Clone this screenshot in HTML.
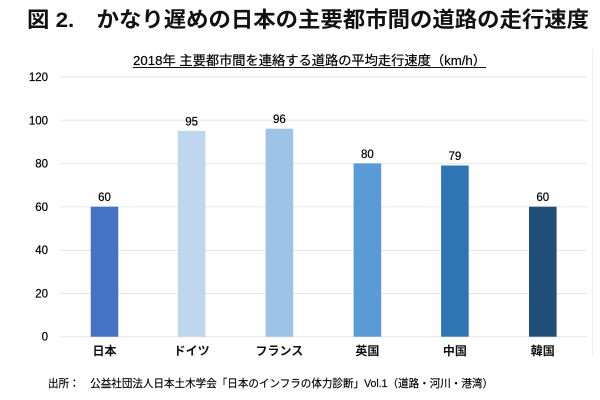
<!DOCTYPE html>
<html><head><meta charset="utf-8"><style>
html,body{margin:0;padding:0;background:#fff;}
svg{display:block;}
</style></head><body>
<svg width="600" height="400" viewBox="0 0 600 400" xmlns="http://www.w3.org/2000/svg">
<rect width="600" height="400" fill="#fff"/>
<line x1="592.5" y1="49" x2="592.5" y2="357" stroke="#eeeeee" stroke-width="1"/>
<text x="27" y="27" font-family="'Liberation Sans','Noto Sans CJK JP',sans-serif" font-size="21.5" font-weight="bold" fill="#111" textLength="562" lengthAdjust="spacingAndGlyphs">図 2.　かなり遅めの日本の主要都市間の道路の走行速度</text>
<text x="133" y="65" font-family="'Liberation Sans','Noto Sans CJK JP',sans-serif" font-size="13" fill="#000" stroke="#000" stroke-width="0.2" textLength="353" lengthAdjust="spacingAndGlyphs">2018年 主要都市間を連絡する道路の平均走行速度（km/h）</text>
<line x1="133" y1="67.5" x2="486" y2="67.5" stroke="#111" stroke-width="1"/>
<g stroke="#e6e6e6" stroke-width="1">
<line x1="60" y1="77" x2="587" y2="77"/>
<line x1="60" y1="120.3" x2="587" y2="120.3"/>
<line x1="60" y1="163.6" x2="587" y2="163.6"/>
<line x1="60" y1="206.9" x2="587" y2="206.9"/>
<line x1="60" y1="250.2" x2="587" y2="250.2"/>
<line x1="60" y1="293.5" x2="587" y2="293.5"/>
<line x1="60" y1="336.7" x2="587" y2="336.7"/>
</g>
<g font-family="'Liberation Sans',sans-serif" font-size="11.5" fill="#000" stroke="#000" stroke-width="0.2" text-anchor="end">
<text x="48" y="81">120</text>
<text x="48" y="124.3">100</text>
<text x="48" y="167.6">80</text>
<text x="48" y="210.9">60</text>
<text x="48" y="254.2">40</text>
<text x="48" y="297.5">20</text>
<text x="48" y="340.7">0</text>
</g>
<rect x="90.7" y="206.7" width="27.6" height="130" fill="#4472C4"/>
<rect x="177.8" y="130.9" width="27.6" height="205.8" fill="#BDD7EE"/>
<rect x="265.6" y="128.7" width="27.6" height="208" fill="#9DC3E6"/>
<rect x="353.6" y="163.4" width="27.6" height="173.3" fill="#5B9BD5"/>
<rect x="441.1" y="165.5" width="27.6" height="171.2" fill="#2E75B6"/>
<rect x="529" y="206.7" width="27.6" height="130" fill="#1F4E79"/>
<g font-family="'Liberation Sans',sans-serif" font-size="11.5" fill="#000" stroke="#000" stroke-width="0.2" text-anchor="middle">
<text x="104.5" y="201">60</text>
<text x="191.6" y="125.5">95</text>
<text x="279.4" y="123">96</text>
<text x="367.4" y="158">80</text>
<text x="454.9" y="160">79</text>
<text x="542.8" y="201">60</text>
</g>
<g font-family="'Liberation Sans','Noto Sans CJK JP',sans-serif" font-size="12" font-weight="bold" fill="#111" text-anchor="middle">
<text x="104.5" y="355">日本</text>
<text x="191.6" y="355">ドイツ</text>
<text x="279.4" y="355">フランス</text>
<text x="367.4" y="355">英国</text>
<text x="454.9" y="355">中国</text>
<text x="542.8" y="355">韓国</text>
</g>
<text x="48" y="387" font-family="'Liberation Sans','Noto Sans CJK JP',sans-serif" font-size="11" fill="#000" stroke="#000" stroke-width="0.15" textLength="445" lengthAdjust="spacingAndGlyphs">出所：　公益社団法人日本土木学会「日本のインフラの体力診断」Vol.1（道路・河川・港湾）</text>
</svg>
</body></html>
